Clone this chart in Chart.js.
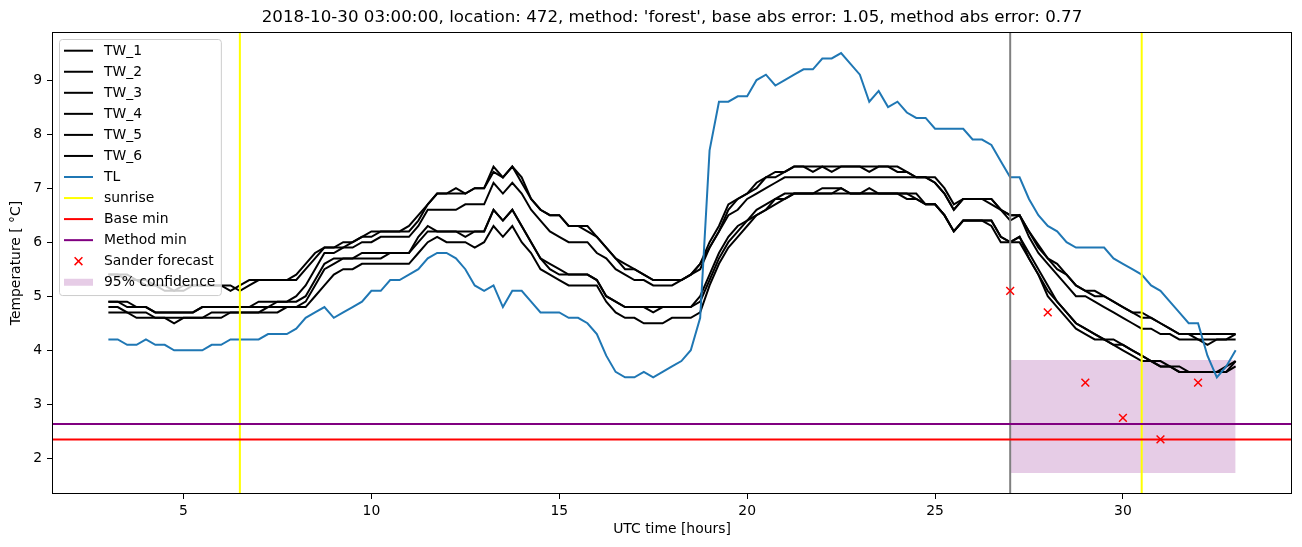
<!DOCTYPE html>
<html>
<head>
<meta charset="utf-8">
<script src="https://cdn.jsdelivr.net/npm/chart.js@4.4.1/dist/chart.umd.min.js"></script>
<style>
  html, body { margin: 0; padding: 0; background: #fff; }
  #wrap { width: 1302px; height: 547px; }
</style>
</head>
<body>
<div id="wrap"><canvas id="temp-chart"></canvas></div>
<script>
function grid(from, to, step) {
  const out = [];
  for (let v = from; v <= to + 1e-9; v += step) out.push(Math.round(v * 100) / 100);
  return out;
}

// hours since 2018-10-30 00:00 UTC, one reading every 15 minutes
const hours = grid(3, 33, 0.25);

const titleText = "2018-10-30 03:00:00, location: 472, method: 'forest', base abs error: 1.05, method abs error: 0.77";

// road-surface temperatures, one row per hour
const tw1 = [5.4,5.4,5.4,5.3, 5.3,5.2,5.2,5.1, 5.2,5.2,5.2,5.2, 5.2,5.1,5.2,5.3, 5.3,5.3,5.3,5.3,
             5.4,5.6,5.8,5.9, 5.9,6.0,6.0,6.1, 6.2,6.2,6.2,6.2, 6.3,6.5,6.7,6.9, 6.9,7.0,6.9,7.0,
             7.0,7.4,7.2,7.4, 7.1,6.8,6.6,6.5, 6.5,6.3,6.3,6.3, 6.1,5.9,5.7,5.6, 5.5,5.4,5.3,5.3,
             5.3,5.3,5.4,5.6, 6.0,6.3,6.7,6.8, 6.9,7.1,7.2,7.3, 7.3,7.4,7.4,7.3, 7.4,7.4,7.4,7.4,
             7.4,7.4,7.4,7.4, 7.3,7.3,7.2,7.2, 7.2,7.0,6.7,6.8, 6.8,6.8,6.8,6.6, 6.5,6.5,6.2,5.95,
             5.7,5.6,5.4,5.2, 5.1,5.1,5.0,4.9, 4.8,4.7,4.7,4.6, 4.5,4.4,4.3,4.3, 4.3,4.3,4.3,4.3, 4.3];
const tw2 = [5.4,5.4,5.3,5.3, 5.2,5.2,5.1,5.1, 5.1,5.2,5.2,5.2, 5.2,5.2,5.1,5.2, 5.3,5.3,5.3,5.3,
             5.3,5.5,5.7,5.9, 5.9,5.9,6.0,6.1, 6.1,6.2,6.2,6.2, 6.2,6.4,6.7,6.9, 6.9,6.9,6.9,7.0,
             7.0,7.3,7.2,7.4, 7.2,6.8,6.6,6.5, 6.5,6.3,6.3,6.2, 6.1,5.9,5.7,5.5, 5.5,5.4,5.3,5.3,
             5.3,5.3,5.4,5.5, 5.9,6.2,6.6,6.8, 6.9,7.0,7.2,7.2, 7.3,7.4,7.4,7.4, 7.4,7.3,7.4,7.4,
             7.4,7.3,7.4,7.4, 7.4,7.3,7.2,7.2, 7.1,6.9,6.6,6.8, 6.8,6.8,6.7,6.6, 6.5,6.5,6.2,5.9,
             5.7,5.5,5.4,5.2, 5.1,5.0,5.0,4.9, 4.8,4.7,4.6,4.6, 4.5,4.4,4.3,4.3, 4.2,4.2,4.2,4.2, 4.3];
const tw3 = [4.9,4.9,4.9,4.8, 4.8,4.7,4.7,4.7, 4.7,4.7,4.8,4.8, 4.8,4.8,4.8,4.8, 4.9,4.9,4.9,4.9,
             5.0,5.2,5.5,5.8, 5.8,5.9,5.9,6.0, 6.0,6.1,6.1,6.1, 6.1,6.3,6.6,6.6, 6.6,6.6,6.7,6.7,
             6.7,7.1,6.9,7.1, 6.9,6.6,6.4,6.2, 6.1,6.0,6.0,6.0, 5.8,5.7,5.5,5.4, 5.3,5.3,5.2,5.2,
             5.2,5.3,5.4,5.6, 5.9,6.2,6.5,6.6, 6.8,6.9,7.0,7.1, 7.2,7.2,7.2,7.2, 7.2,7.2,7.2,7.2,
             7.2,7.2,7.2,7.2, 7.2,7.2,7.2,7.2, 7.1,6.9,6.6,6.8, 6.8,6.8,6.8,6.6, 6.4,6.5,6.1,5.8,
             5.6,5.4,5.2,5.0, 5.0,4.9,4.8,4.7, 4.6,4.5,4.4,4.4, 4.3,4.3,4.2,4.2, 4.2,4.1,4.2,4.2, 4.2];
const tw4 = [4.9,4.9,4.8,4.8, 4.8,4.7,4.7,4.7, 4.7,4.7,4.8,4.8, 4.8,4.8,4.8,4.8, 4.8,4.8,4.9,4.9,
             4.9,5.0,5.3,5.6, 5.7,5.7,5.7,5.8, 5.8,5.8,5.8,5.8, 5.8,6.1,6.3,6.2, 6.2,6.2,6.2,6.2,
             6.2,6.6,6.4,6.6, 6.3,6.0,5.7,5.6, 5.5,5.4,5.4,5.4, 5.3,5.0,4.9,4.8, 4.8,4.8,4.8,4.8,
             4.8,4.8,4.8,5.0, 5.4,5.8,6.1,6.3, 6.4,6.6,6.7,6.8, 6.9,6.9,6.9,6.9, 7.0,7.0,7.0,6.9,
             6.9,7.0,6.9,6.9, 6.9,6.9,6.9,6.7, 6.7,6.5,6.2,6.4, 6.4,6.4,6.4,6.1, 6.0,6.1,5.8,5.5,
             5.2,4.9,4.7,4.5, 4.4,4.3,4.2,4.2, 4.1,4.0,3.9,3.8, 3.8,3.7,3.7,3.6, 3.6,3.6,3.6,3.7, 3.8];
const tw5 = [4.8,4.8,4.7,4.7, 4.7,4.6,4.6,4.6, 4.6,4.6,4.6,4.7, 4.7,4.7,4.7,4.7, 4.7,4.8,4.8,4.8,
             4.8,4.9,5.2,5.5, 5.6,5.7,5.7,5.7, 5.7,5.7,5.8,5.8, 5.8,6.0,6.2,6.2, 6.2,6.2,6.1,6.2,
             6.2,6.6,6.4,6.6, 6.3,6.0,5.7,5.5, 5.4,5.4,5.4,5.4, 5.3,5.0,4.9,4.8, 4.8,4.8,4.7,4.8,
             4.8,4.8,4.8,4.9, 5.3,5.7,6.0,6.2, 6.4,6.5,6.6,6.8, 6.8,6.9,6.9,6.9, 6.9,6.9,7.0,6.9,
             6.9,6.9,6.9,6.9, 6.9,6.9,6.8,6.7, 6.7,6.5,6.2,6.4, 6.4,6.4,6.4,6.1, 6.0,6.1,5.7,5.4,
             5.1,4.9,4.7,4.5, 4.4,4.3,4.2,4.1, 4.1,4.0,3.9,3.8, 3.7,3.7,3.6,3.6, 3.6,3.6,3.6,3.6, 3.7];
const tw6 = [4.7,4.7,4.7,4.6, 4.6,4.6,4.6,4.5, 4.6,4.6,4.6,4.6, 4.6,4.7,4.7,4.7, 4.7,4.7,4.7,4.8,
             4.8,4.8,5.0,5.2, 5.4,5.5,5.5,5.6, 5.6,5.6,5.6,5.6, 5.6,5.8,6.0,6.1, 6.0,6.0,6.0,5.9,
             6.0,6.3,6.1,6.3, 6.0,5.8,5.5,5.4, 5.3,5.2,5.2,5.2, 5.2,4.9,4.7,4.6, 4.6,4.5,4.5,4.5,
             4.6,4.6,4.6,4.7, 5.2,5.6,5.9,6.1, 6.3,6.5,6.6,6.7, 6.8,6.9,6.9,6.9, 6.9,6.9,6.9,6.9,
             6.9,6.9,6.9,6.9, 6.9,6.8,6.8,6.7, 6.7,6.5,6.2,6.4, 6.4,6.4,6.3,6.0, 6.0,6.0,5.7,5.4,
             5.0,4.8,4.6,4.4, 4.3,4.2,4.2,4.1, 4.0,3.9,3.8,3.8, 3.7,3.7,3.6,3.6, 3.6,3.6,3.6,3.6, 3.8];

// air temperature
const tl = [4.2,4.2,4.1,4.1, 4.2,4.1,4.1,4.0, 4.0,4.0,4.0,4.1, 4.1,4.2,4.2,4.2, 4.2,4.3,4.3,4.3,
            4.4,4.6,4.7,4.8, 4.6,4.7,4.8,4.9, 5.1,5.1,5.3,5.3, 5.4,5.5,5.7,5.8, 5.8,5.7,5.5,5.2,
            5.1,5.2,4.8,5.1, 5.1,4.9,4.7,4.7, 4.7,4.6,4.6,4.5, 4.3,3.9,3.6,3.5, 3.5,3.6,3.5,3.6,
            3.7,3.8,4.0,4.6, 7.7,8.6,8.6,8.7, 8.7,9.0,9.1,8.9, 9.0,9.1,9.2,9.2, 9.4,9.4,9.5,9.3,
            9.1,8.6,8.8,8.5, 8.6,8.4,8.3,8.3, 8.1,8.1,8.1,8.1, 7.9,7.9,7.8,7.5, 7.2,7.2,6.8,6.5,
            6.3,6.2,6.0,5.9, 5.9,5.9,5.9,5.7, 5.6,5.5,5.4,5.2, 5.1,4.9,4.7,4.5, 4.5,3.9,3.5,3.7, 4.0];

const sunriseHours = [6.5, 30.5];
const forecastHour = 27;
const baseMin = 2.35;
const methodMin = 2.635;
const sanderHours = [27, 28, 29, 30, 31, 32];
const sanderValues = [5.1, 4.7, 3.4, 2.75, 2.35, 3.4];
const confHours = [27, 33];
const confLow = 1.73;
const confHigh = 3.82;

const xLimits = [1.5, 34.5];
const yLimits = [1.34, 9.89];
const xTicks = [5, 10, 15, 20, 25, 30];
const yTicks = [2, 3, 4, 5, 6, 7, 8, 9];

const FONT = 'DejaVu Sans';
Chart.defaults.font.family = FONT;
Chart.defaults.font.size = 13.9;
Chart.defaults.color = '#000';

function series(label, xs, ys, color, order) {
  return {
    label, legendType: 'line',
    data: xs.map((x, i) => ({ x, y: ys[i] })),
    borderColor: color, backgroundColor: color, borderWidth: 2,
    pointRadius: 0, tension: 0, fill: false, order
  };
}
function vline(label, x, color, order) {
  return {
    label, legendType: label ? 'line' : null,
    data: [{ x, y: yLimits[0] }, { x, y: yLimits[1] }],
    borderColor: color, backgroundColor: color, borderWidth: 2,
    pointRadius: 0, fill: false, order
  };
}
function hline(label, y, color, order) {
  return {
    label, legendType: 'line',
    data: [{ x: xLimits[0], y }, { x: xLimits[1], y }],
    borderColor: color, backgroundColor: color, borderWidth: 2,
    pointRadius: 0, fill: false, order
  };
}

const datasets = [
  series('TW_1', hours, tw1, '#000', 80),
  series('TW_2', hours, tw2, '#000', 79),
  series('TW_3', hours, tw3, '#000', 78),
  series('TW_4', hours, tw4, '#000', 77),
  series('TW_5', hours, tw5, '#000', 76),
  series('TW_6', hours, tw6, '#000', 75),
  series('TL', hours, tl, '#1f77b4', 70),
  vline('sunrise', sunriseHours[0], '#ffff00', 60),
  vline(null, sunriseHours[1], '#ffff00', 60),
  hline('Base min', baseMin, '#ff0000', 50),
  hline('Method min', methodMin, '#800080', 45),
  {
    label: 'Sander forecast', legendType: 'marker',
    data: sanderHours.map((x, i) => ({ x, y: sanderValues[i] })),
    showLine: false, pointStyle: 'crossRot', pointRadius: 5.5, pointHoverRadius: 5.5,
    borderColor: '#ff0000', backgroundColor: '#ff0000', pointBorderWidth: 1.5, order: 40
  },
  {
    label: '95% confidence', legendType: 'patch',
    data: confHours.map(x => ({ x, y: confHigh })),
    borderWidth: 0, pointRadius: 0, borderColor: 'rgba(0,0,0,0)',
    backgroundColor: 'rgba(128,0,128,0.2)', fill: { value: confLow }, order: 90
  },
  vline(null, forecastHour, '#808080', 55)
];

// title centred over the axes, like matplotlib does
const axesTitle = {
  id: 'axesTitle',
  afterDraw(chart) {
    const { ctx, chartArea: a } = chart;
    ctx.save();
    ctx.font = '16.67px "' + FONT + '"';
    ctx.fillStyle = '#000';
    ctx.textAlign = 'center';
    ctx.textBaseline = 'middle';
    ctx.fillText(titleText, (a.left + a.right) / 2, 18);
    ctx.restore();
  }
};

const frame = {
  id: 'frame',
  afterDatasetsDraw(chart) {
    const { ctx, chartArea: a } = chart;
    ctx.save();
    ctx.strokeStyle = '#000';
    ctx.lineWidth = 1;
    ctx.strokeRect(Math.round(a.left) + 0.5, Math.round(a.top) + 0.5,
                   Math.round(a.right - a.left) - 1, Math.round(a.bottom - a.top) - 1);
    ctx.restore();
  }
};

const boxLegend = {
  id: 'boxLegend',
  afterDraw(chart) {
    const { ctx, chartArea: a } = chart;
    const items = chart.data.datasets.filter(d => d.legendType);
    ctx.save();
    ctx.font = '13.9px "' + FONT + '"';
    const left = Math.round(a.left) + 7.5, top = Math.round(a.top) + 7.5;
    const rowH = 21.05;
    const textX = left + 44.5;
    const textW = Math.max(...items.map(d => ctx.measureText(d.label).width));
    const w = textX - left + textW + 6;
    const h = 11.2 + rowH * (items.length - 1) + 13.3;
    ctx.beginPath();
    ctx.roundRect(left, top, w, h, 3);
    ctx.fillStyle = 'rgba(255,255,255,0.8)';
    ctx.fill();
    ctx.strokeStyle = '#cccccc';
    ctx.lineWidth = 1;
    ctx.stroke();
    items.forEach((d, i) => {
      const cy = top + 11.2 + i * rowH;
      const x0 = left + 4.5, x1 = left + 33.5, cx = (x0 + x1) / 2;
      if (d.legendType === 'line') {
        ctx.strokeStyle = d.borderColor;
        ctx.lineWidth = 2;
        ctx.beginPath(); ctx.moveTo(x0, cy); ctx.lineTo(x1, cy); ctx.stroke();
      } else if (d.legendType === 'marker') {
        const r = 3.9;
        ctx.strokeStyle = d.borderColor;
        ctx.lineWidth = 1.5;
        ctx.beginPath();
        ctx.moveTo(cx - r, cy - r); ctx.lineTo(cx + r, cy + r);
        ctx.moveTo(cx - r, cy + r); ctx.lineTo(cx + r, cy - r);
        ctx.stroke();
      } else {
        ctx.fillStyle = d.backgroundColor;
        ctx.fillRect(x0, cy - 3.5, x1 - x0, 7);
      }
      ctx.fillStyle = '#000';
      ctx.textBaseline = 'middle';
      ctx.textAlign = 'left';
      ctx.fillText(d.label, textX, cy + 0.5);
    });
    ctx.restore();
  }
};

const tickGrid = { display: true, drawOnChartArea: false, drawTicks: true, tickLength: 5, color: '#000', lineWidth: 1 };

new Chart(document.getElementById('temp-chart'), {
  type: 'line',
  data: { datasets },
  options: {
    responsive: true,
    maintainAspectRatio: false,
    animation: false,
    devicePixelRatio: 1,
    layout: { padding: { left: 0, right: 10, top: 32, bottom: 0 } },
    scales: {
      x: {
        type: 'linear', min: xLimits[0], max: xLimits[1],
        grid: tickGrid, border: { display: false },
        ticks: { padding: 4 },
        afterBuildTicks: s => { s.ticks = xTicks.map(v => ({ value: v })); },
        afterFit: s => { s.height = 53; },
        title: { display: true, text: 'UTC time [hours]', font: { size: 13.9 }, padding: { top: 0, bottom: 9.5 } }
      },
      y: {
        type: 'linear', min: yLimits[0], max: yLimits[1],
        grid: tickGrid, border: { display: false },
        ticks: { padding: 5 },
        afterBuildTicks: s => { s.ticks = yTicks.map(v => ({ value: v })); },
        afterFit: s => { s.width = 52; },
        title: { display: true, text: 'Temperature [ \u00b0C]', font: { size: 13.9 }, padding: { top: 8.5, bottom: 0 } }
      }
    },
    plugins: {
      legend: { display: false },
      tooltip: { enabled: false },
      title: { display: false }
    }
  },
  plugins: [frame, boxLegend, axesTitle]
});
</script>
</body>
</html>
